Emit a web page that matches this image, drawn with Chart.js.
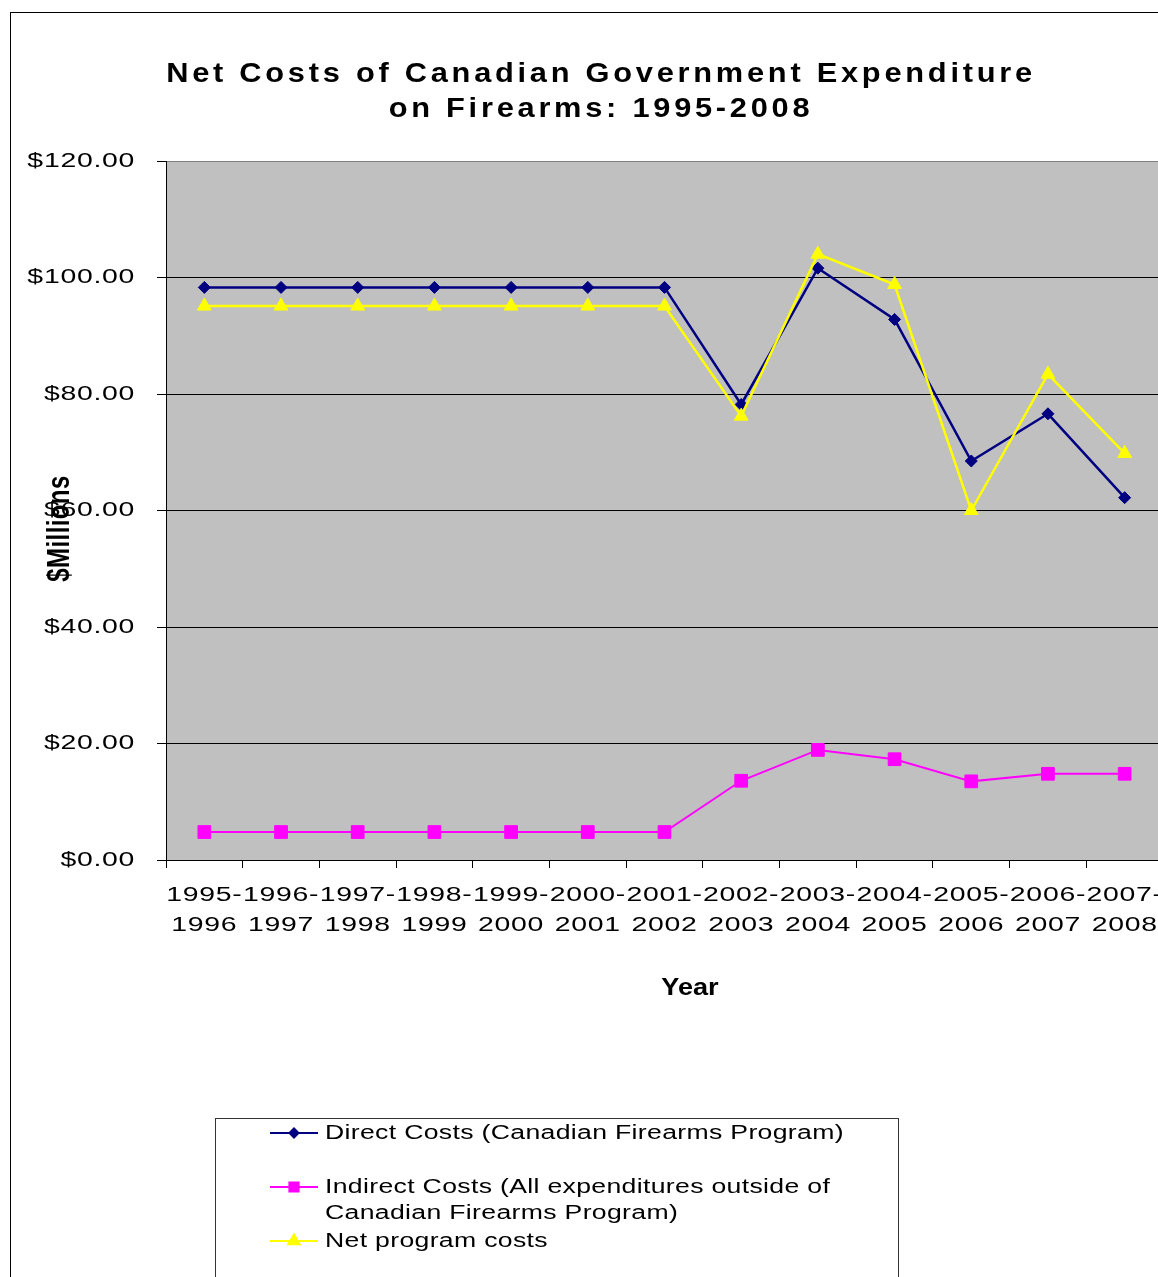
<!DOCTYPE html>
<html>
<head>
<meta charset="utf-8">
<script src="https://cdn.jsdelivr.net/npm/chart.js@4.4.1/dist/chart.umd.min.js"></script>
<style>
html,body{margin:0;padding:0;background:#fff;overflow:hidden;width:1158px;height:1277px}
#wrap{position:absolute;left:0;top:0;width:1190px;height:1277px}
canvas{display:block}
</style>
</head>
<body>
<div id="wrap"><canvas id="c" width="1190" height="1277"></canvas></div>
<script>
// ---- data ----
const titleLines = ['Net Costs of Canadian Government Expenditure', 'on Firearms: 1995-2008'];
const yAxisTitle = '$Millions';
const xAxisTitle = 'Year';
const categories = [
  ['1995-','1996'], ['1996-','1997'], ['1997-','1998'], ['1998-','1999'], ['1999-','2000'],
  ['2000-','2001'], ['2001-','2002'], ['2002-','2003'], ['2003-','2004'], ['2004-','2005'],
  ['2005-','2006'], ['2006-','2007'], ['2007-','2008']
];
const directCosts   = [98.3, 98.3, 98.3, 98.3, 98.3, 98.3, 98.3, 78.2, 101.6, 92.8, 68.5, 76.6, 62.2];
const indirectCosts = [4.8, 4.8, 4.8, 4.8, 4.8, 4.8, 4.8, 13.6, 18.9, 17.3, 13.5, 14.8, 14.8];
const netCosts      = [95.1, 95.1, 95.1, 95.1, 95.1, 95.1, 95.1, 76.2, 104.0, 98.8, 60.0, 83.4, 69.8];
const seriesLabels = [
  ['Direct Costs (Canadian Firearms Program)'],
  ['Indirect Costs (All expenditures outside of', 'Canadian Firearms Program)'],
  ['Net program costs']
];
const yMin = 0, yMax = 120, yStep = 20;

// ---- text helper: horizontally widened glyphs (the original picture is stretched) ----
const protoFillText = CanvasRenderingContext2D.prototype.fillText;
function widenText(ctx) {
  if (ctx.__widened) return;
  ctx.__widened = true;
  ctx.__sx = 1;
  ctx.fillText = function (t, x, y) {
    if (this.__sx && this.__sx !== 1) {
      this.save();
      this.translate(x, y);
      this.scale(this.__sx, 1);
      protoFillText.call(this, t, 0, 0);
      this.restore();
    } else {
      protoFillText.call(this, t, x, y);
    }
  };
}

const decor = {
  id: 'decor',
  beforeDraw(chart) {
    const ctx = chart.ctx, a = chart.chartArea;
    widenText(ctx);
    ctx.save();
    ctx.fillStyle = '#ffffff';
    ctx.fillRect(0, 0, chart.width, chart.height);
    ctx.fillStyle = '#C0C0C0';
    ctx.fillRect(a.left, a.top, a.right - a.left, a.bottom - a.top);
    ctx.strokeStyle = '#000';
    ctx.lineWidth = 1;
    ctx.strokeRect(10.5, 12.5, 1170, 1300);
    ctx.restore();
    // tick labels
    ctx.__sx = 1.42;
    ctx.letterSpacing = '0.5px';
  },
  afterDraw(chart) {
    const ctx = chart.ctx, a = chart.chartArea;
    ctx.save();
    ctx.fillStyle = '#000';
    // title
    ctx.font = 'bold 28px "Liberation Sans", Arial, sans-serif';
    ctx.__sx = 1.1;
    ctx.letterSpacing = '3.4px';
    ctx.textAlign = 'center';
    ctx.textBaseline = 'alphabetic';
    titleLines.forEach((t, i) => ctx.fillText(t, 601, 82 + i * 35));
    // y axis title (rotated)
    ctx.__sx = 1;
    ctx.save();
    ctx.font = 'bold 24px "Liberation Sans", Arial, sans-serif';
    ctx.letterSpacing = '0.4px';
    ctx.translate(60, (a.top + a.bottom) / 2 + 18);
    ctx.rotate(-Math.PI / 2);
    ctx.scale(1, 1.3);
    ctx.textAlign = 'center';
    ctx.textBaseline = 'middle';
    ctx.fillText(yAxisTitle, 0, 0);
    ctx.restore();
    // x axis title
    ctx.font = 'bold 23px "Liberation Sans", Arial, sans-serif';
    ctx.__sx = 1.18;
    ctx.letterSpacing = '0px';
    ctx.textAlign = 'center';
    ctx.textBaseline = 'middle';
    ctx.fillText(xAxisTitle, 690, 989);
    // legend box
    ctx.__sx = 1;
    ctx.strokeStyle = '#333';
    ctx.lineWidth = 1;
    ctx.strokeRect(215.5, 1118.5, 683, 200);
    // legend items
    ctx.font = '20px "Liberation Sans", Arial, sans-serif';
    ctx.textAlign = 'left';
    ctx.textBaseline = 'middle';
    const legendRadius = [4.5, 6.5, 6.5];
    chart.data.datasets.forEach((ds, i) => {
      const y = 1133 + i * 54;
      ctx.strokeStyle = ds.borderColor;
      ctx.lineWidth = 2;
      ctx.beginPath();
      ctx.moveTo(270, y);
      ctx.lineTo(318, y);
      ctx.stroke();
      ctx.fillStyle = ds.pointBackgroundColor;
      Chart.helpers.drawPoint(ctx, {pointStyle: ds.pointStyle, radius: legendRadius[i], borderWidth: 1, rotation: 0}, 294, y);
      ctx.fill();
      ctx.fillStyle = '#000';
      ctx.__sx = 1.33;
      ctx.letterSpacing = '0.25px';
      seriesLabels[i].forEach((line, j) => ctx.fillText(line, 325, y + j * 26));
      ctx.__sx = 1;
      ctx.letterSpacing = '0px';
    });
    ctx.restore();
    ctx.__sx = 1;
  }
};

new Chart(document.getElementById('c'), {
  type: 'line',
  data: {
    labels: categories,
    datasets: [
      {
        label: seriesLabels[0].join(' '), data: directCosts, order: 3,
        borderColor: '#000080', backgroundColor: '#000080', borderWidth: 2.5,
        pointStyle: 'rectRot', pointRadius: 6, pointBackgroundColor: '#000080', pointBorderColor: '#000080', pointBorderWidth: 1,
        tension: 0
      },
      {
        label: seriesLabels[1].join(' '), data: indirectCosts, order: 2,
        borderColor: '#FF00FF', backgroundColor: '#FF00FF', borderWidth: 2,
        pointStyle: 'rect', pointRadius: 9, pointBackgroundColor: '#FF00FF', pointBorderColor: '#FF00FF', pointBorderWidth: 1,
        tension: 0
      },
      {
        label: seriesLabels[2].join(' '), data: netCosts, order: 1,
        borderColor: '#FFFF00', backgroundColor: '#FFFF00', borderWidth: 2.5,
        pointStyle: 'triangle', pointRadius: 8, pointBackgroundColor: '#FFFF00', pointBorderColor: '#FFFF00', pointBorderWidth: 1,
        tension: 0
      }
    ]
  },
  options: {
    responsive: false,
    devicePixelRatio: 1,
    animation: false,
    layout: { padding: { left: 0, top: 161, right: 27, bottom: 317 } },
    plugins: { legend: { display: false }, title: { display: false }, tooltip: { enabled: false } },
    scales: {
      x: {
        type: 'category',
        offset: true,
        afterFit(s) { s.height = 100; },
        grid: { drawOnChartArea: false, drawTicks: true, tickLength: 8, offset: true, color: '#000', tickColor: '#000', lineWidth: 1 },
        border: { display: true, color: '#000', width: 1 },
        ticks: {
          autoSkip: false, maxRotation: 0, minRotation: 0, padding: 12, color: '#000',
          font: { family: '"Liberation Sans", Arial, sans-serif', size: 20, lineHeight: 1.5 }
        }
      },
      y: {
        min: yMin, max: yMax,
        afterFit(s) { s.width = 166; },
        grid: {
          color: (c) => (c.tick && c.tick.value === yMax) ? '#808080' : '#000',
          tickColor: '#000', lineWidth: 1, drawTicks: true, tickLength: 9
        },
        border: { display: true, color: '#000', width: 1 },
        ticks: {
          stepSize: yStep, padding: 22, color: '#000',
          font: { family: '"Liberation Sans", Arial, sans-serif', size: 20 },
          callback: (v) => '$' + Number(v).toFixed(2)
        }
      }
    }
  },
  plugins: [decor]
});
</script>
</body>
</html>
